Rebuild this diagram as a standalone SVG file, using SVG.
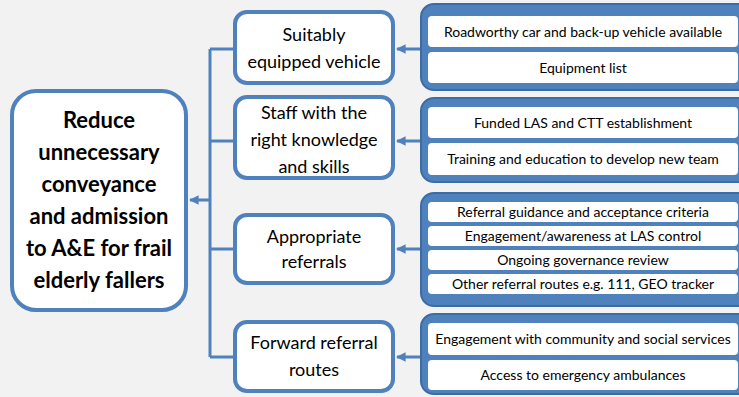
<svg xmlns="http://www.w3.org/2000/svg" width="739" height="397" viewBox="0 0 739 397">
  <defs>
    <marker id="ah" viewBox="0 0 10 10" refX="9" refY="5" markerWidth="3.2" markerHeight="3.2" orient="auto" markerUnits="strokeWidth">
      <path d="M0,0 L10,5 L0,10 z" fill="#4f81bd"/>
    </marker>
    <style>
      .box { fill: #ffffff; stroke: #4f81bd; stroke-width: 4; }
      .grp { fill: #4f81bd; stroke: #3b6ca6; stroke-width: 2; }
      .row { fill: #ffffff; }
      .conn { stroke: #4f81bd; stroke-width: 3; fill: none; }
      .main { font-family: Lato, "Open Sans", "Liberation Sans", sans-serif; font-size: 22px; font-weight: bold; fill: #000; text-anchor: middle; }
      .mid { font-family: Lato, "Open Sans", "Liberation Sans", sans-serif; font-size: 18px; fill: #000; text-anchor: middle; }
      .item { font-family: Lato, "Open Sans", "Liberation Sans", sans-serif; font-size: 14px; fill: #000; text-anchor: middle; }
    </style>
  </defs>
  <rect x="0" y="0" width="739" height="397" fill="#f2f2f2"/>

  <g id="connectors">
    <path class="conn" d="M210,49 L210,357"/>
    <path class="conn" d="M210,49 L233,49 M210,141 L233,141 M210,249 L233,249 M210,357 L233,357"/>
    <path class="conn" d="M210,200 L190,200" marker-end="url(#ah)"/>
    <path class="conn" d="M420,49 L397,49" marker-end="url(#ah)"/>
    <path class="conn" d="M420,141 L397,141" marker-end="url(#ah)"/>
    <path class="conn" d="M420,249 L397,249" marker-end="url(#ah)"/>
    <path class="conn" d="M420,357 L397,357" marker-end="url(#ah)"/>
  </g>

  <g id="main">
    <rect class="box" x="12" y="91" width="174" height="219" rx="24"/>
    <text class="main" x="99" y="128">Reduce</text>
    <text class="main" x="99" y="160">unnecessary</text>
    <text class="main" x="99" y="192">conveyance</text>
    <text class="main" x="99" y="224">and admission</text>
    <text class="main" x="99" y="256">to A&amp;E for frail</text>
    <text class="main" x="99" y="288">elderly fallers</text>
  </g>

  <g id="vehicle">
    <rect class="box" x="235" y="12" width="158" height="71" rx="12"/>
    <text class="mid" x="314" y="41">Suitably</text>
    <text class="mid" x="314" y="68">equipped vehicle</text>
  </g>
  <g id="staff">
    <rect class="box" x="235" y="97" width="158" height="81" rx="12"/>
    <text class="mid" x="314" y="119">Staff with the</text>
    <text class="mid" x="314" y="146">right knowledge</text>
    <text class="mid" x="314" y="173">and skills</text>
  </g>
  <g id="referrals">
    <rect class="box" x="235" y="215" width="158" height="68" rx="12"/>
    <text class="mid" x="314" y="243">Appropriate</text>
    <text class="mid" x="314" y="268">referrals</text>
  </g>
  <g id="forward">
    <rect class="box" x="235" y="322" width="158" height="69" rx="12"/>
    <text class="mid" x="314" y="349">Forward referral</text>
    <text class="mid" x="314" y="376">routes</text>
  </g>

  <g id="vehicle-items">
    <rect class="grp" x="421" y="4" width="340" height="86" rx="13"/>
    <rect class="row" x="428" y="16" width="310" height="31" rx="4"/>
    <rect class="row" x="428" y="52" width="310" height="31" rx="4"/>
    <text class="item" x="583" y="36.5">Roadworthy car and back-up vehicle available</text>
    <text class="item" x="583" y="72.5">Equipment list</text>
  </g>
  <g id="staff-items">
    <rect class="grp" x="421" y="98" width="340" height="84" rx="13"/>
    <rect class="row" x="428" y="107" width="310" height="31" rx="4"/>
    <rect class="row" x="428" y="143" width="310" height="32" rx="4"/>
    <text class="item" x="583" y="127.5">Funded LAS and CTT establishment</text>
    <text class="item" x="583" y="164">Training and education to develop new team</text>
  </g>
  <g id="referral-items">
    <rect class="grp" x="421" y="193" width="340" height="113" rx="13"/>
    <rect class="row" x="428" y="202" width="310" height="20" rx="4"/>
    <rect class="row" x="428" y="226" width="310" height="20" rx="4"/>
    <rect class="row" x="428" y="250" width="310" height="20" rx="4"/>
    <rect class="row" x="428" y="274" width="310" height="20" rx="4"/>
    <text class="item" x="583" y="217">Referral guidance and acceptance criteria</text>
    <text class="item" x="583" y="241">Engagement/awareness at LAS control</text>
    <text class="item" x="583" y="265">Ongoing governance review</text>
    <text class="item" x="583" y="289">Other referral routes e.g. 111, GEO tracker</text>
  </g>
  <g id="forward-items">
    <rect class="grp" x="421" y="314" width="340" height="80" rx="13"/>
    <rect class="row" x="428" y="323" width="310" height="32" rx="4"/>
    <rect class="row" x="428" y="360" width="310" height="30" rx="4"/>
    <text class="item" x="583" y="344">Engagement with community and social services</text>
    <text class="item" x="583" y="380">Access to emergency ambulances</text>
  </g>
</svg>
